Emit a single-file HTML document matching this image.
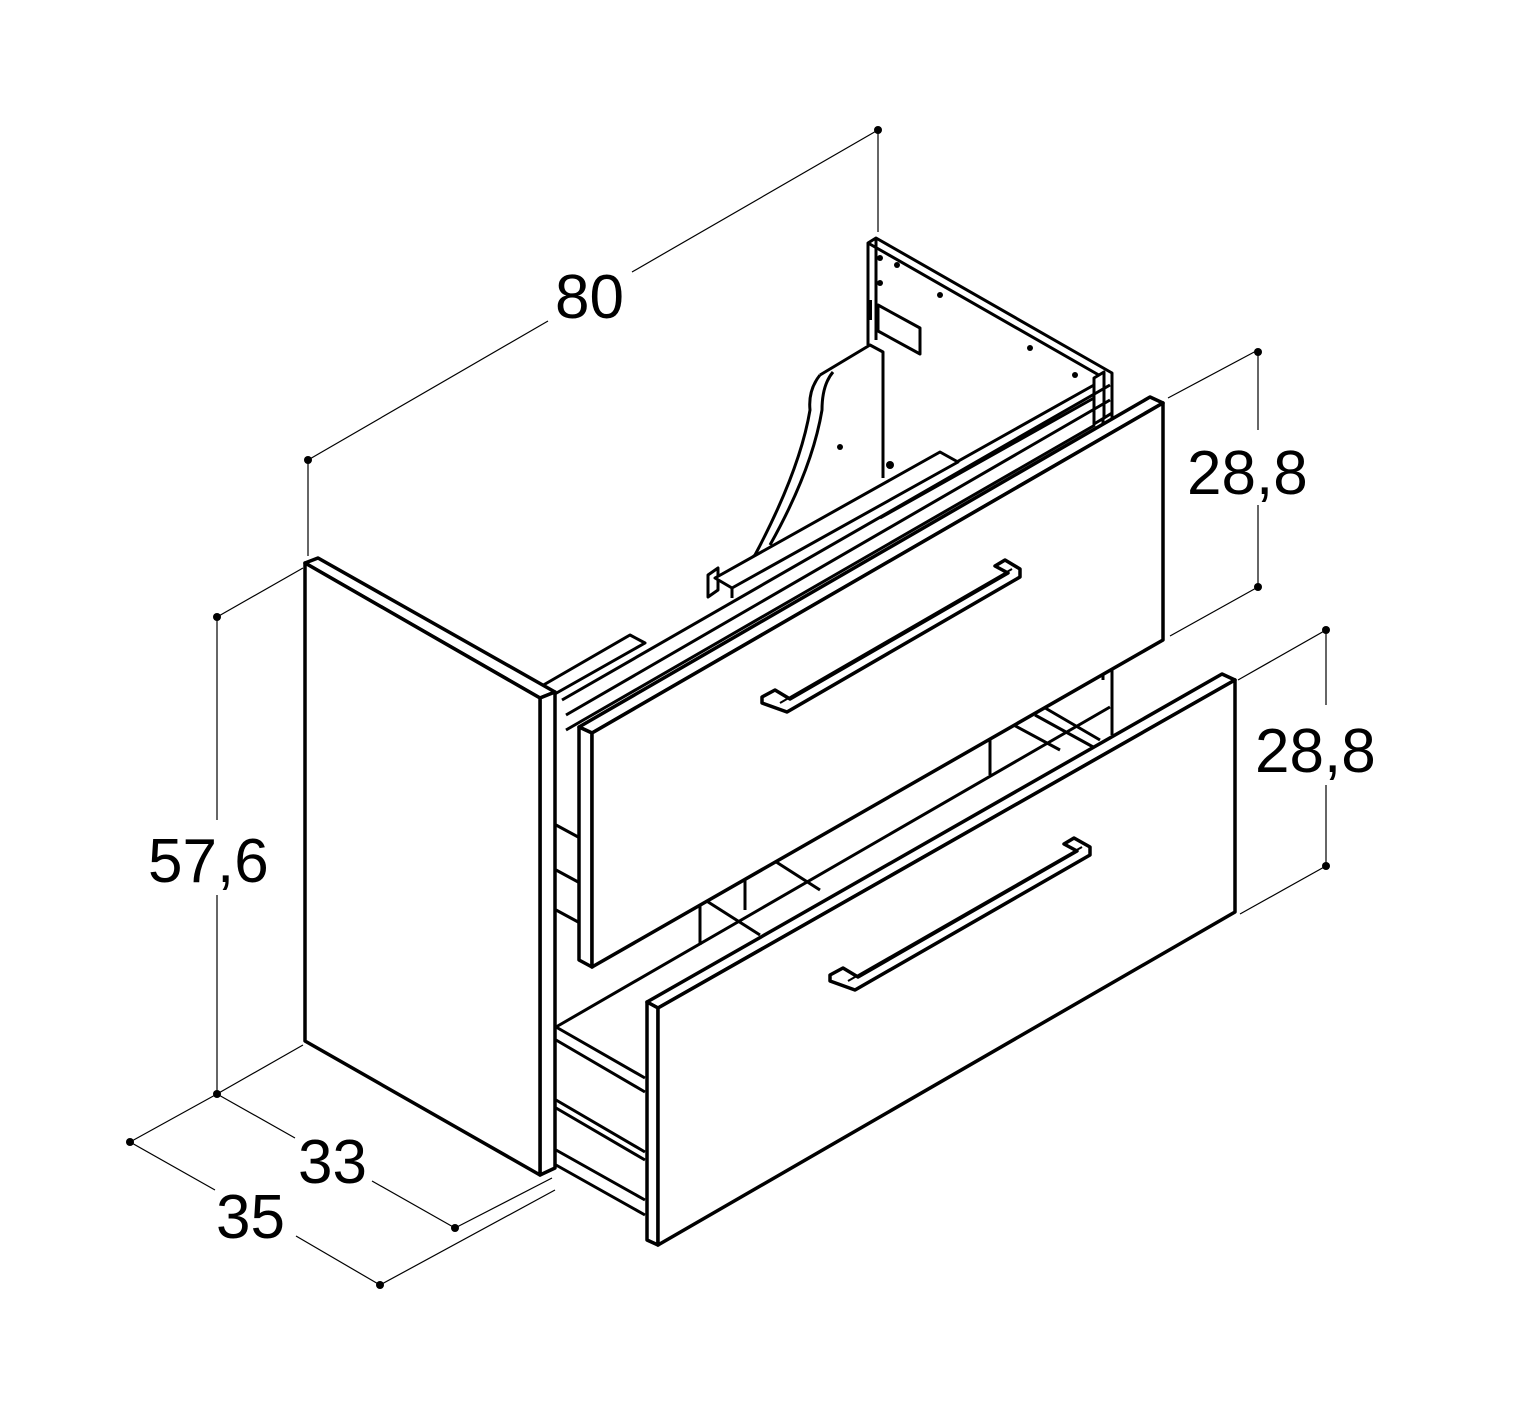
<!DOCTYPE html>
<html><head><meta charset="utf-8"><style>
html,body{margin:0;padding:0;background:#fff;}
svg{display:block;}
text{font-family:"Liberation Sans",sans-serif;fill:#000;}
</style></head><body>
<svg width="1513" height="1415" viewBox="0 0 1513 1415" xmlns="http://www.w3.org/2000/svg">
<rect width="1513" height="1415" fill="#fff"/>
<g stroke="#000" stroke-width="1.2" fill="none">
<line x1="308" y1="460" x2="548" y2="321"/>
<line x1="632" y1="272" x2="878" y2="130"/>
<line x1="308" y1="460" x2="308" y2="556"/>
<line x1="878" y1="130" x2="878" y2="232"/>
<line x1="1258" y1="352" x2="1258" y2="430"/>
<line x1="1258" y1="505" x2="1258" y2="587"/>
<line x1="1168" y1="398" x2="1258" y2="350"/>
<line x1="1170" y1="636" x2="1258" y2="587"/>
<line x1="1326" y1="630" x2="1326" y2="705"/>
<line x1="1326" y1="785" x2="1326" y2="866"/>
<line x1="1238" y1="680" x2="1326" y2="630"/>
<line x1="1240" y1="914" x2="1326" y2="866"/>
<line x1="217" y1="617" x2="217" y2="820"/>
<line x1="217" y1="895" x2="217" y2="1094"/>
<line x1="217" y1="617" x2="303" y2="568"/>
<line x1="217" y1="1094" x2="303" y2="1045"/>
<line x1="217" y1="1094" x2="295" y2="1138"/>
<line x1="372" y1="1181" x2="455" y2="1228"/>
<line x1="455" y1="1228" x2="552" y2="1178"/>
<line x1="130" y1="1142" x2="217" y2="1094"/>
<line x1="130" y1="1142" x2="215" y2="1190"/>
<line x1="296" y1="1236" x2="380" y2="1285"/>
<line x1="380" y1="1285" x2="555" y2="1190"/>
</g>
<g fill="#000">
<circle cx="308" cy="460" r="4"/><circle cx="878" cy="130" r="4"/>
<circle cx="1258" cy="352" r="4"/><circle cx="1258" cy="587" r="4"/>
<circle cx="1326" cy="630" r="4"/><circle cx="1326" cy="866" r="4"/>
<circle cx="217" cy="617" r="4"/><circle cx="217" cy="1094" r="4"/>
<circle cx="455" cy="1228" r="4"/><circle cx="130" cy="1142" r="4"/><circle cx="380" cy="1285" r="4"/>
</g>
<g font-size="62">
<text x="555" y="318">80</text>
<text x="1187" y="494">28,8</text>
<text x="1255" y="772">28,8</text>
<text x="148" y="882">57,6</text>
<text x="298" y="1183">33</text>
<text x="216" y="1238">35</text>
</g>
<g stroke="#000" stroke-width="3" fill="#fff" stroke-linejoin="round">
<polygon points="868,243 876,238 1112,373 1112,413 1104,418 1104,378"/>
<line x1="868" y1="243" x2="868" y2="345" />
<line x1="876" y1="238" x2="876" y2="340"/>
<polygon points="1094,378 1104,372 1104,418 1094,424" fill="#fff"/>
<line x1="1094" y1="385" x2="880" y2="505"/>
<line x1="1094" y1="398" x2="880" y2="518"/>
<polygon points="878,305 920,328 920,354 878,331"/>
<line x1="870" y1="300" x2="870" y2="320" stroke-width="4"/>
<path d="M820,375 L870,345 L883,352 L883,478 M820,375 Q808,390 810,410 Q800,470 755,555 L738,570 M833,372 Q822,385 822,410 Q812,470 770,545"/>
<polygon points="708,575 718,568 718,590 708,597"/>
<polygon points="715,578 940,452 958,462 732,588" />
<line x1="732" y1="588" x2="732" y2="598"/>
<polygon points="540,687 630,635 645,643 553,695"/>
<line x1="553" y1="695" x2="553" y2="1170"/>
<line x1="562" y1="700" x2="1110" y2="385"/>
<line x1="566" y1="715" x2="1110" y2="400"/>
<line x1="566" y1="730" x2="1095" y2="425"/>
<line x1="1103" y1="418" x2="1103" y2="680"/>
<line x1="1112" y1="413" x2="1112" y2="735"/>
<line x1="1035" y1="715" x2="1095" y2="748"/>
<line x1="1040" y1="705" x2="1100" y2="740"/>
</g>
<g stroke="#000" stroke-width="3.5" fill="#fff" stroke-linejoin="round">
<polygon points="305,563 318,558 555,692 540,698"/>
<polygon points="540,698 555,692 555,1168 540,1175"/>
<polygon points="305,563 540,698 540,1175 305,1041"/>
</g>
<g stroke="#000" stroke-width="3" fill="none">
<line x1="556" y1="1027" x2="1110" y2="707"/>
<line x1="556" y1="1027" x2="645" y2="1078"/>
<line x1="556" y1="1040" x2="645" y2="1092"/>
<line x1="556" y1="1100" x2="645" y2="1152"/>
<line x1="556" y1="1108" x2="645" y2="1160"/>
<line x1="556" y1="1150" x2="645" y2="1200"/>
<line x1="556" y1="1165" x2="645" y2="1215"/>
<line x1="700" y1="905" x2="700" y2="945"/>
<line x1="705" y1="900" x2="760" y2="935"/>
<line x1="745" y1="875" x2="745" y2="910"/>
<line x1="770" y1="858" x2="820" y2="890"/>
<line x1="990" y1="740" x2="990" y2="775"/>
<line x1="995" y1="715" x2="1060" y2="750"/>
<line x1="556" y1="825" x2="580" y2="838"/>
<line x1="556" y1="870" x2="580" y2="883"/>
<line x1="556" y1="910" x2="580" y2="923"/>
</g>
<g stroke="#000" stroke-width="3.5" fill="#fff" stroke-linejoin="round">
<polygon points="579,727 1150,397 1163,403 592,733"/>
<polygon points="579,727 592,733 592,967 579,960"/>
<polygon points="592,733 1163,403 1163,640 592,967"/>
<path d="M762,697 L775,690 L790,699 L1008,573 L995,566 L1005,560 L1020,569 L1020,577 L787,712 L762,703 Z" fill="#fff"/>
<line x1="780" y1="703" x2="1012" y2="569" stroke-width="2"/>
</g>
<g stroke="#000" stroke-width="3.5" fill="#fff" stroke-linejoin="round">
<polygon points="647,1002 1222,674 1235,680 658,1008"/>
<polygon points="647,1002 658,1008 658,1245 647,1240"/>
<polygon points="658,1008 1235,680 1235,912 658,1245"/>
<path d="M830,975 L843,968 L858,977 L1077,851 L1064,844 L1074,838 L1090,847 L1090,855 L855,990 L830,981 Z" fill="#fff"/>
<line x1="848" y1="981" x2="1082" y2="847" stroke-width="2"/>
</g>
<g fill="#000">
<circle cx="880" cy="258" r="3"/><circle cx="897" cy="265" r="3"/><circle cx="880" cy="283" r="3"/>
<circle cx="940" cy="295" r="3"/><circle cx="1030" cy="348" r="3"/><circle cx="1075" cy="375" r="3"/>
<circle cx="840" cy="447" r="3"/><circle cx="890" cy="465" r="4"/>
</g>
</svg>
</body></html>
